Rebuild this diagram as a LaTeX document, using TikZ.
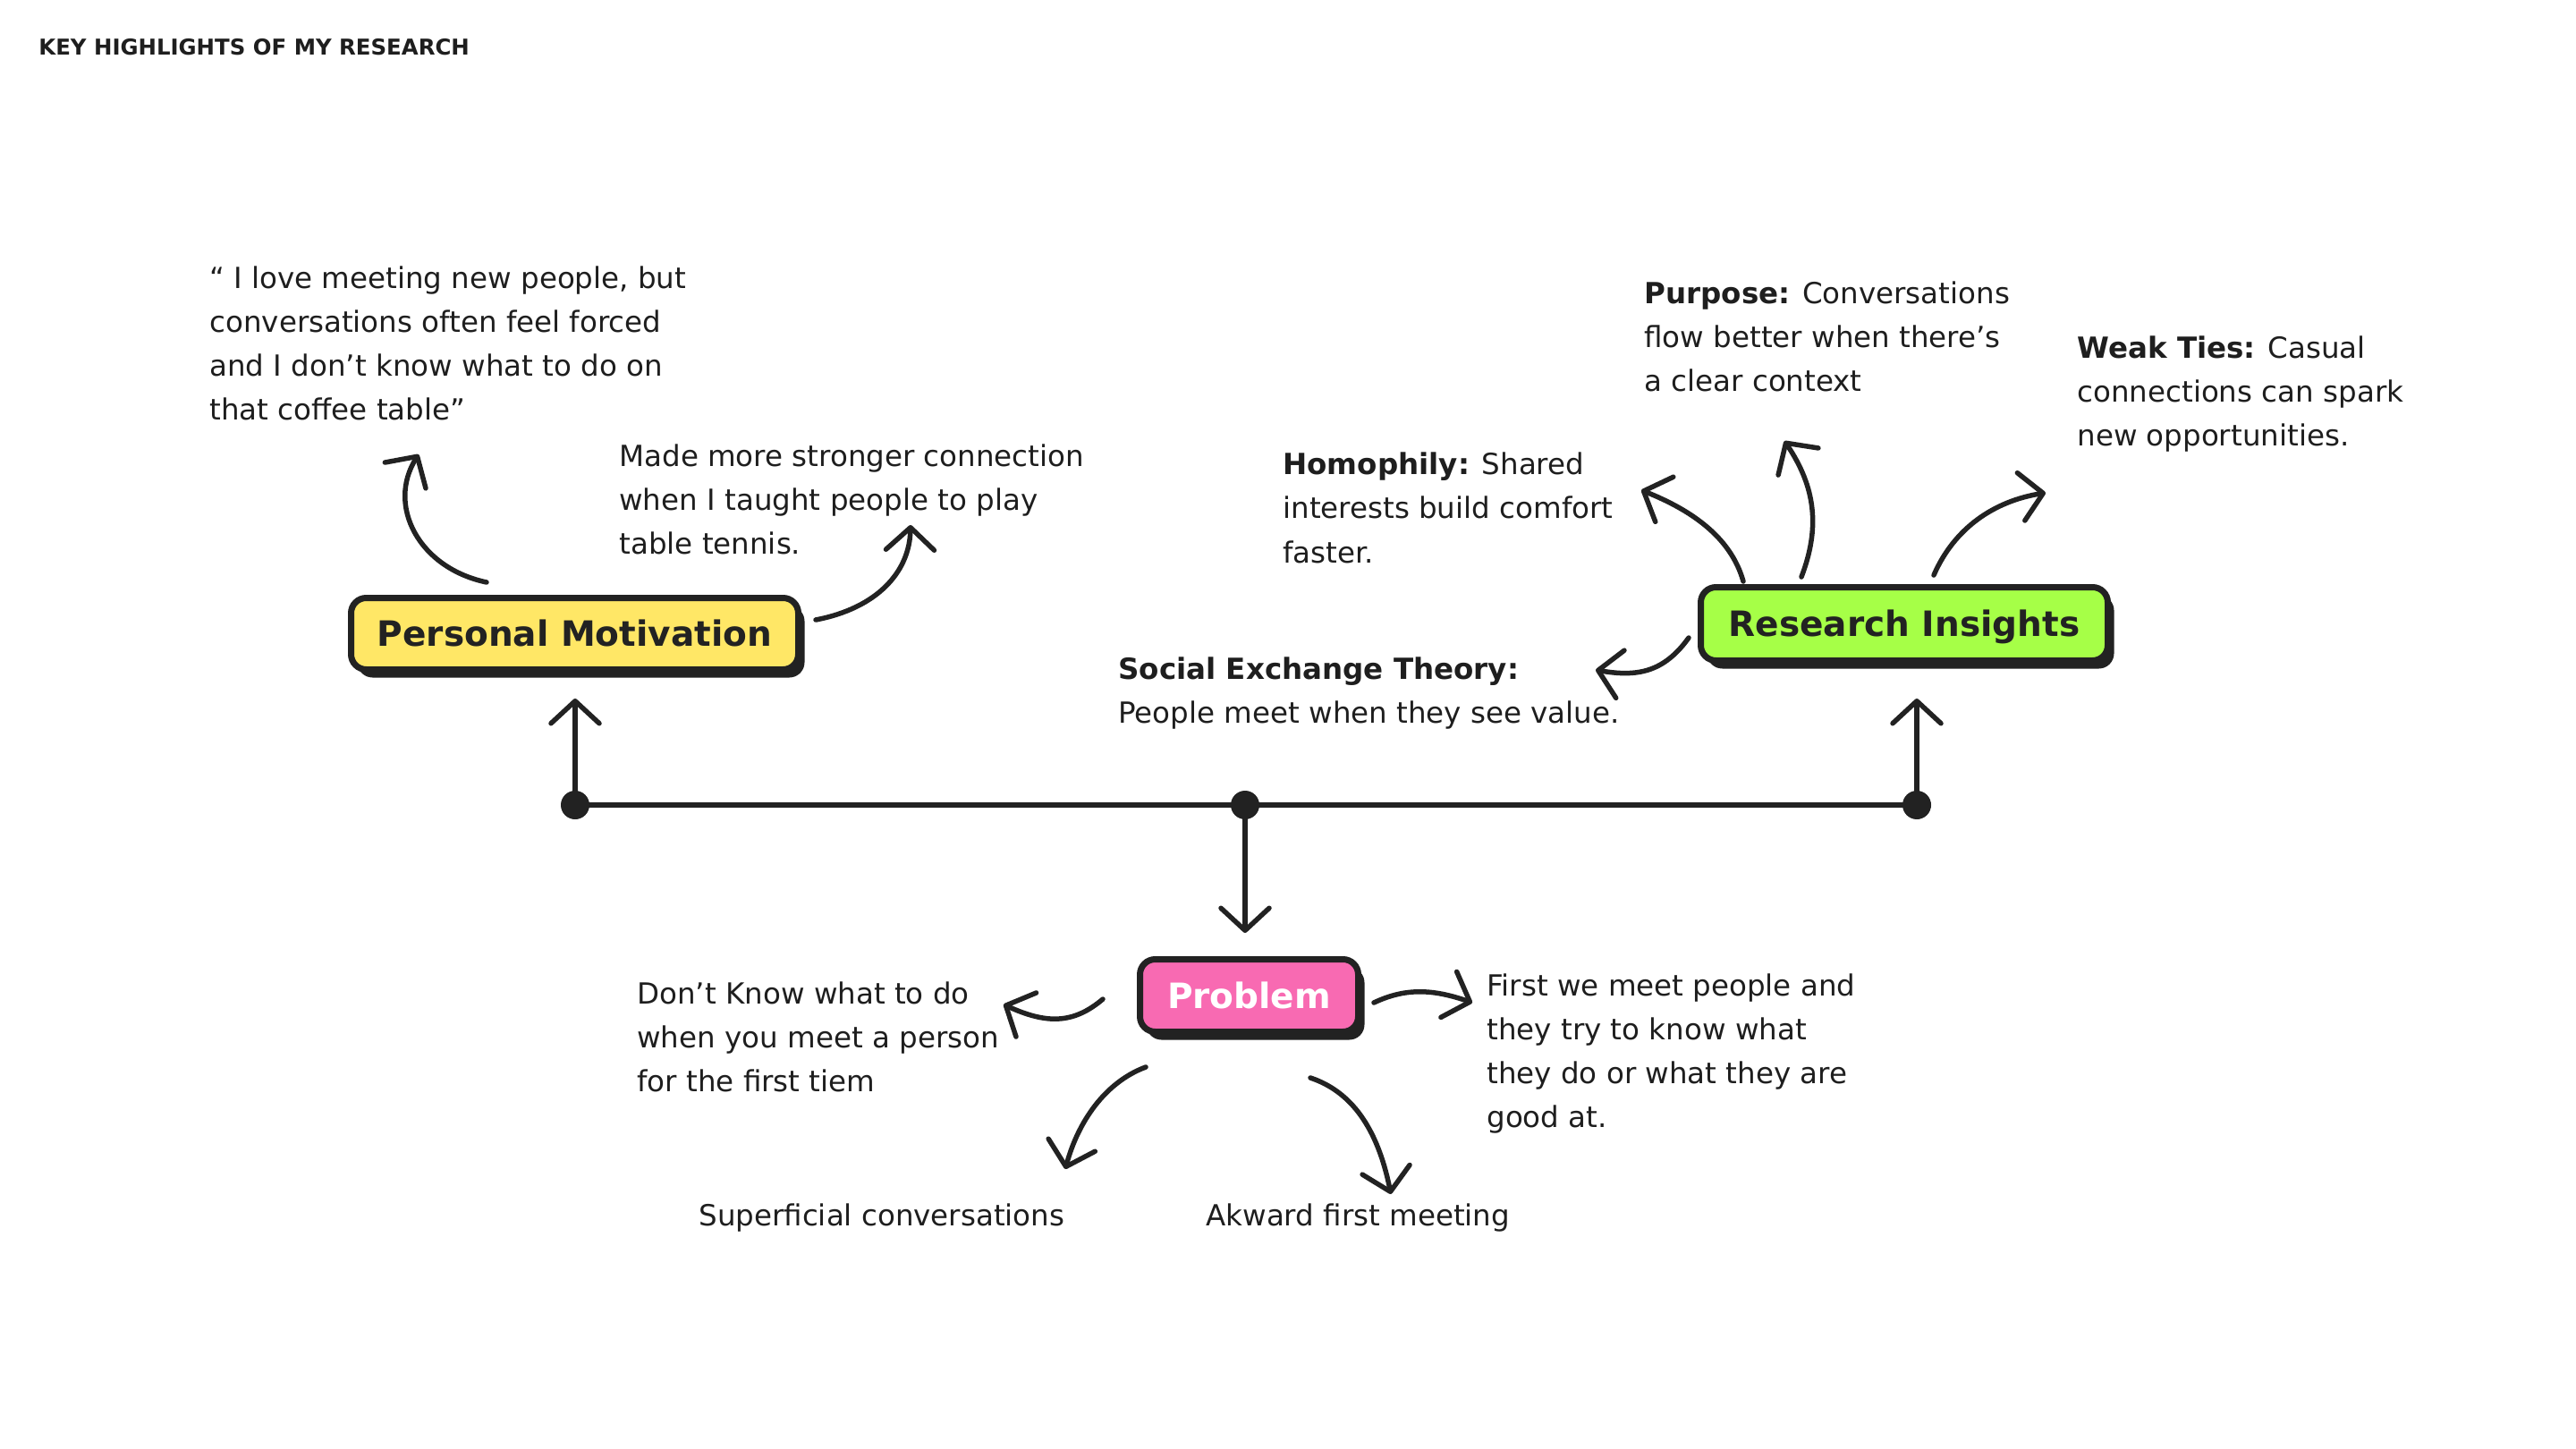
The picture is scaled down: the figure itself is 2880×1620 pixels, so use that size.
\documentclass[tikz,border=0pt]{standalone}
\usepackage{fontspec}
\setmainfont{DejaVu Sans}
\usetikzlibrary{arrows.meta,shadows}
\definecolor{ink}{HTML}{222222}
\definecolor{txt}{HTML}{1E1E1E}
\definecolor{pmyellow}{HTML}{FFE766}
\definecolor{rigreen}{HTML}{A6FF47}
\definecolor{prpink}{HTML}{F86AB2}
\tikzset{
  box/.style={draw=ink, line width=3.5pt, rounded corners=8.5pt, inner sep=0pt,
    font=\bfseries\fontsize{19.5pt}{23pt}\selectfont, text height=14.2pt, text depth=0pt,
    general shadow={fill=ink, shadow xshift=3.5pt, shadow yshift=-4.5pt}},
  body/.style={anchor=base west, inner sep=0pt, text=txt,
    font=\fontsize{16.25pt}{24.5pt}\selectfont},
  conn/.style={draw=ink, line width=2.75pt, line cap=round,
    -{Straight Barb[length=12.5pt,width=27pt,round]}},
  bar/.style={draw=ink, line width=2.75pt},
  dot/.style={circle, fill=ink, inner sep=0pt, minimum size=16pt},
}
\begin{document}
\begin{tikzpicture}[x=0.5pt,y=-0.5pt]
\useasboundingbox (0,0) rectangle (2880,1620);
\fill[white] (0,0) rectangle (2880,1620);

% title
\node[anchor=base west, inner sep=0pt, text=txt, font=\bfseries\fontsize{12.2pt}{14pt}\selectfont] (title) at (43,62) {KEY HIGHLIGHTS OF MY RESEARCH};

% main boxes
\node[box, fill=pmyellow, text=ink, minimum width=250pt, minimum height=40pt] (pm) at (642.5,708.5) {Personal Motivation};
\node[box, fill=rigreen, text=ink, minimum width=227.5pt, minimum height=41pt] (ri) at (2129,697.5) {Research Insights};
\node[box, fill=prpink, text=white, minimum width=122pt, minimum height=40.5pt] (pr) at (1396.5,1113) {Problem};

% timeline
\node[dot] (d1) at (643,900) {};
\node[dot] (d2) at (1392,900) {};
\node[dot] (d3) at (2143,900) {};
\draw[bar] (d1.center) -- (d3.center);
\coordinate (pmup) at (643,781);
\coordinate (riup) at (2143,781);
\coordinate (prdown) at (1392,1043);
\draw[conn] (d1.center) -- (pmup);
\draw[conn] (d3.center) -- (riup);
\draw[conn] (d2.center) -- (prdown);

% texts
\node[body] (quote) at (234,323) {\begin{tabular}[t]{@{}l@{}}“ I love meeting new people, but\\conversations often feel forced\\and I don’t know what to do on\\that coffee table”\end{tabular}};
\node[body] (tennis) at (692,522) {\begin{tabular}[t]{@{}l@{}}Made more stronger connection\\when I taught people to play\\table tennis.\end{tabular}};
\node[body] (purpose) at (1838,340) {\begin{tabular}[t]{@{}l@{}}\textbf{Purpose:} Conversations\\flow better when there’s\\a clear context\end{tabular}};
\node[body] (weak) at (2322,401) {\begin{tabular}[t]{@{}l@{}}\textbf{Weak Ties:} Casual\\connections can spark\\new opportunities.\end{tabular}};
\node[body] (homo) at (1434,531) {\begin{tabular}[t]{@{}l@{}}\textbf{Homophily:} Shared\\interests build comfort\\faster.\end{tabular}};
\node[body] (social) at (1250,759) {\begin{tabular}[t]{@{}l@{}}\textbf{Social Exchange Theory:}\\People meet when they see value.\end{tabular}};
\node[body] (dontknow) at (712,1122) {\begin{tabular}[t]{@{}l@{}}Don’t Know what to do\\when you meet a person\\for the first tiem\end{tabular}};
\node[body] (firstmeet) at (1662,1113) {\begin{tabular}[t]{@{}l@{}}First we meet people and\\they try to know what\\they do or what they are\\good at.\end{tabular}};
\node[body] (superficial) at (781,1370) {Superficial conversations};
\node[body] (akward) at (1348,1370) {Akward first meeting};

% curved connectors: personal motivation
\coordinate (pmq-s) at (544,651); \coordinate (pmq-e) at (468,508);
\draw[conn] (pmq-s) .. controls (468,635) and (432,565) .. (pmq-e);
\coordinate (pmt-s) at (912,693); \coordinate (pmt-e) at (1018,587);
\draw[conn] (pmt-s) .. controls (980,680) and (1017,640) .. (pmt-e);

% research insights
\coordinate (ris-s) at (1888,713); \coordinate (ris-e) at (1784,749);
\draw[conn] (ris-s) .. controls (1860,752) and (1830,757) .. (ris-e);
\coordinate (rih-s) at (1949,650); \coordinate (rih-e) at (1835,548);
\draw[conn] (rih-s) .. controls (1935,600) and (1890,570) .. (rih-e);
\coordinate (rip-s) at (2014,645); \coordinate (rip-e) at (1995,493);
\draw[conn] (rip-s) .. controls (2035,590) and (2030,545) .. (rip-e);
\coordinate (riw-s) at (2162,643); \coordinate (riw-e) at (2287,551);
\draw[conn] (riw-s) .. controls (2185,590) and (2230,560) .. (riw-e);

% problem
\coordinate (prl-s) at (1233,1117); \coordinate (prl-e) at (1122,1123);
\draw[conn] (prl-s) .. controls (1200,1145) and (1170,1145) .. (prl-e);
\coordinate (prr-s) at (1536,1121); \coordinate (prr-e) at (1646,1121);
\draw[conn] (prr-s) .. controls (1570,1105) and (1600,1105) .. (prr-e);
\coordinate (prdl-s) at (1281,1193); \coordinate (prdl-e) at (1191,1307);
\draw[conn] (prdl-s) .. controls (1235,1210) and (1205,1255) .. (prdl-e);
\coordinate (prdr-s) at (1465,1205); \coordinate (prdr-e) at (1555,1335);
\draw[conn] (prdr-s) .. controls (1510,1220) and (1540,1260) .. (prdr-e);
\end{tikzpicture}
\end{document}
